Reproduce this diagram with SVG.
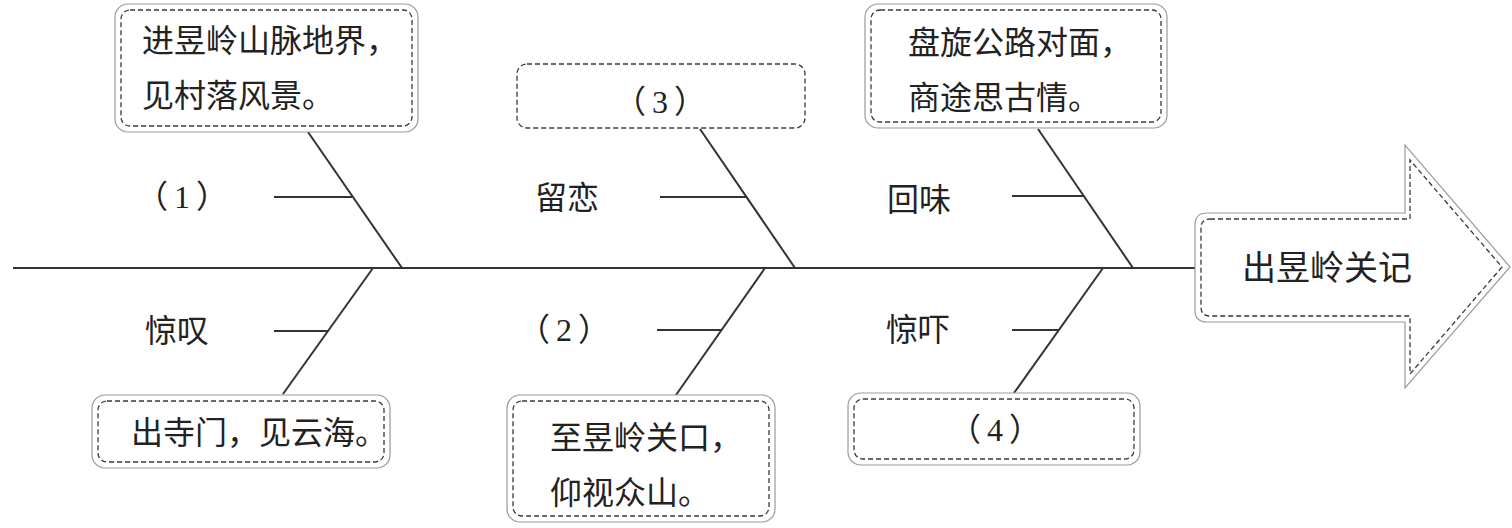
<svg xmlns="http://www.w3.org/2000/svg" width="1512" height="528" viewBox="0 0 1512 528">
<style>
.outer{fill:#fff;stroke:#9a9a9a;stroke-width:1.2}
.inner{fill:none;stroke:#3a3a3a;stroke-width:1.3;stroke-dasharray:5 3}
.t{font-family:"Liberation Serif","Noto Sans CJK SC",serif;font-size:32px;fill:#222}
.p{letter-spacing:6px}
.ln{stroke:#333;stroke-width:2;fill:none}
</style>
<rect width="1512" height="528" fill="#fff"/>
<g id="connectors">
<line class="ln" x1="13" y1="268" x2="1195" y2="268"/>
<line class="ln" x1="402" y1="268" x2="308" y2="132"/>
<line class="ln" x1="274" y1="197" x2="352" y2="197"/>
<line class="ln" x1="373" y1="268" x2="283" y2="394"/>
<line class="ln" x1="274" y1="331" x2="328" y2="331"/>
<line class="ln" x1="795" y1="268" x2="700" y2="129"/>
<line class="ln" x1="660" y1="197" x2="746" y2="197"/>
<line class="ln" x1="765" y1="268" x2="676" y2="395"/>
<line class="ln" x1="657" y1="330" x2="721" y2="330"/>
<line class="ln" x1="1133" y1="268" x2="1038" y2="129"/>
<line class="ln" x1="1012" y1="196" x2="1083" y2="196"/>
<line class="ln" x1="1103" y1="268" x2="1014" y2="393"/>
<line class="ln" x1="1012" y1="330" x2="1059" y2="330"/>
</g>
<g id="box1">
<rect class="outer" x="115" y="4" width="303" height="128" rx="13"/>
<rect class="inner" x="121" y="10" width="291" height="116" rx="9"/>
<text class="t" x="142" y="52">进昱岭山脉地界，</text>
<text class="t" x="142" y="107">见村落风景。</text>
</g>
<g id="box3">
<rect class="inner" x="517" y="64" width="288" height="64" rx="10"/>
<text class="t p" x="663" y="113" text-anchor="middle">（3）</text>
</g>
<g id="box5">
<rect class="outer" x="865" y="4" width="302" height="124" rx="13"/>
<rect class="inner" x="871" y="10" width="290" height="112" rx="9"/>
<text class="t" x="908" y="54">盘旋公路对面，</text>
<text class="t" x="908" y="109">商途思古情。</text>
</g>
<g id="box2">
<rect class="outer" x="92" y="395" width="298" height="73" rx="13"/>
<rect class="inner" x="98" y="401" width="286" height="61" rx="9"/>
<text class="t" x="131" y="444">出寺门，见云海。</text>
</g>
<g id="box4">
<rect class="outer" x="507" y="395" width="268" height="127" rx="13"/>
<rect class="inner" x="513" y="401" width="256" height="115" rx="9"/>
<text class="t" x="550" y="449">至昱岭关口，</text>
<text class="t" x="550" y="504">仰视众山。</text>
</g>
<g id="box6">
<rect class="outer" x="848" y="393" width="292" height="72" rx="13"/>
<rect class="inner" x="854" y="399" width="280" height="60" rx="9"/>
<text class="t p" x="998" y="441" text-anchor="middle">（4）</text>
</g>
<g id="labels">
<text class="t p" x="185" y="208" text-anchor="middle">（1）</text>
<text class="t" x="177" y="342" text-anchor="middle">惊叹</text>
<text class="t" x="567" y="209" text-anchor="middle">留恋</text>
<text class="t p" x="567" y="341" text-anchor="middle">（2）</text>
<text class="t" x="919" y="211" text-anchor="middle">回味</text>
<text class="t" x="918" y="341" text-anchor="middle">惊吓</text>
</g>
<g id="arrow">
<path class="outer" d="M1207,213 L1405,213 L1405,145 L1510,267 L1405,388 L1405,322 L1207,322 Q1195,322 1195,310 L1195,225 Q1195,213 1207,213 Z"/>
<path class="inner" d="M1210,219 L1410,219 L1410,160 L1502,267 L1410,374 L1410,316 L1210,316 Q1201,316 1201,307 L1201,228 Q1201,219 1210,219 Z"/>
<text class="t" x="1327" y="280" text-anchor="middle" style="font-size:34px">出昱岭关记</text>
</g>
</svg>
